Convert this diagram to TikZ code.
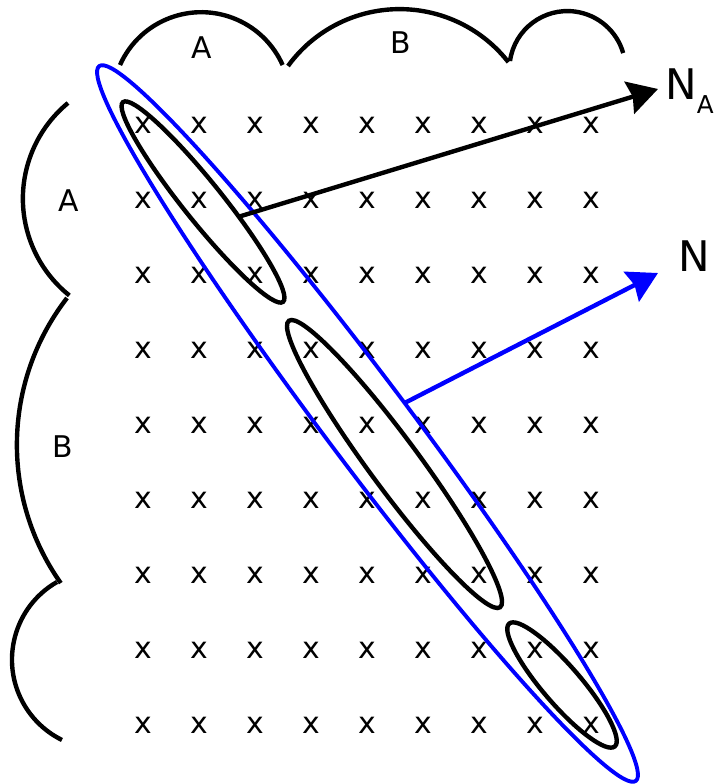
\documentclass[tikz,border=0pt]{standalone}
\usepackage{fontspec}
\setmainfont{DejaVu Sans}
\usetikzlibrary{shapes.geometric, arrows.meta}
\tikzset{
    site/.style={inner sep=0pt, font=\fontsize{17}{17}\selectfont},
    part/.style={inner sep=0pt, font=\fontsize{17}{17}\selectfont},
    cluster/.style={ellipse, draw=black, line width=2.5pt, inner sep=0pt, outer sep=0pt},
    hull/.style={ellipse, draw=blue, line width=2.2pt, inner sep=0pt, outer sep=0pt},
    border/.style={line width=2.5pt, black},
    vec/.style={line width=2.5pt, -{Stealth[length=17pt, width=19pt, inset=2pt]}},
    vecname/.style={inner sep=0pt, font=\fontsize{24}{24}\selectfont},
}

\begin{document}
\begin{tikzpicture}[x=0.02cm, y=0.02cm]
    \useasboundingbox (0,0) rectangle (715,-784);
    \foreach \i in {0,...,8}
        \foreach \j in {0,...,8}
            \node[site] (s-\i-\j) at ({143+56*\i}, {-125-75*\j}) {x};

    \draw[border] (120,-65) arc[start angle=156, end angle=24, radius=89];
    \draw[border] (288,-66) arc[start angle=144, end angle=38, radius=138];
    \draw[border] (510,-61) arc[start angle=172, end angle=16, radius=58];
    \draw[border] (68,-103) arc[start angle=129.5, end angle=231.3, radius=124];
    \draw[border] (67,-298) arc[start angle=142.3, end angle=215.2, radius=240];
    \draw[border] (57,-582) arc[start angle=119.8, end angle=243.8, radius=89.5];

    \node[part] (ta) at (202,-48) {A};
    \node[part] (tb) at (401,-43) {B};
    \node[part] (la) at (68.5,-201) {A};
    \node[part] (lb) at (62.5,-447) {B};

    \node[cluster, minimum width=5.12cm, minimum height=0.78cm, rotate=-51.3] (c1) at (203,-202) {};
    \node[cluster, minimum width=7.12cm, minimum height=1cm, rotate=-53.6] (c2) at (394.5,-464) {};
    \node[cluster, minimum width=3.24cm, minimum height=0.76cm, rotate=-49.3] (c3) at (562,-685) {};
    \node[hull, minimum width=17.88cm, minimum height=1.68cm, rotate=-53.1] (hull) at (367.5,-423.5) {};

    \coordinate (natip) at (658,-89);
    \coordinate (ntip) at (658,-273);
    \draw[vec] (c1.29) -- (natip);
    \draw[vec, blue] (hull.82) -- (ntip);

    \node[vecname, anchor=base west] (NA) at (665,-100) {N\raisebox{-7.4pt}{\fontsize{14}{14}\selectfont A}};
    \node[vecname] (N) at (694.5,-256) {N};
\end{tikzpicture}
\end{document}
